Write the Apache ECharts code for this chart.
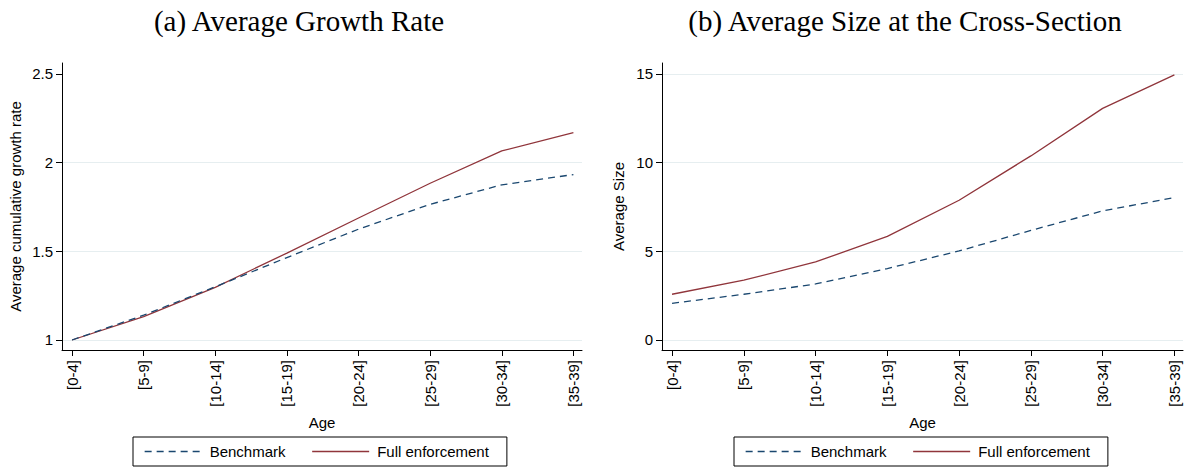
<!DOCTYPE html>
<html>
<head>
<meta charset="utf-8">
<style>
  html, body { margin: 0; padding: 0; background: #ffffff; }
  #chart { width: 1186px; height: 468px; }
</style>
<script src="https://cdn.jsdelivr.net/npm/echarts@6/dist/echarts.min.js"></script>
</head>
<body>
<div id="chart"></div>
<script>
// Age groups on the horizontal axis
const ageGroups = ['[0-4]', '[5-9]', '[10-14]', '[15-19]', '[20-24]', '[25-29]', '[30-34]', '[35-39]'];

// (a) Average cumulative growth rate by age group
const growthBenchmark = [1.00, 1.14, 1.30, 1.465, 1.625, 1.765, 1.875, 1.933];
const growthFull      = [1.00, 1.132, 1.297, 1.49, 1.688, 1.884, 2.066, 2.17];

// (b) Average size at the cross-section by age group
const sizeBenchmark = [2.07, 2.58, 3.16, 4.03, 5.02, 6.18, 7.28, 8.03];
const sizeFull      = [2.58, 3.37, 4.40, 5.84, 7.88, 10.38, 13.06, 14.95];

// Tick values
const ageTicks = [0, 1, 2, 3, 4, 5, 6, 7];
const growthTicks = [1, 1.5, 2, 2.5];
const growthGridValues = [1, 1.5, 2];
const sizeTicks = [0, 5, 10, 15];

const seriesNames = ['Benchmark', 'Full enforcement'];

const NAVY = '#1a476f';
const MAROON = '#90353b';
const SANS = 'Liberation Sans, Arial, sans-serif';
const SERIF = 'Liberation Serif, Times New Roman, serif';
const GRID_COLOR = '#e6eef0';

const toPoints = arr => arr.map((v, i) => [i, v]);

function xAxisFor(gridIndex) {
  return {
    type: 'value',
    gridIndex: gridIndex,
    min: -0.14,
    max: 7.12,
    name: 'Age',
    nameLocation: 'middle',
    nameGap: 62,
    nameTextStyle: { fontFamily: SANS, fontSize: 15, color: '#000' },
    axisLine: { show: true, onZero: false, lineStyle: { color: '#000', width: 1 } },
    axisTick: { show: true, length: 6, customValues: ageTicks, lineStyle: { color: '#000' } },
    axisLabel: {
      customValues: ageTicks,
      rotate: 90,
      margin: 10,
      fontFamily: SANS,
      fontSize: 15,
      color: '#000',
      formatter: v => ageGroups[Math.round(v)]
    },
    splitLine: { show: false }
  };
}

function yAxisFor(gridIndex, min, max, ticks, name, nameGap, showGrid) {
  return {
    type: 'value',
    gridIndex: gridIndex,
    min: min,
    max: max,
    position: 'left',
    name: name,
    nameLocation: 'middle',
    nameGap: nameGap,
    nameRotate: 90,
    nameTextStyle: { fontFamily: SANS, fontSize: 15, color: '#000' },
    axisLine: { show: true, onZero: false, lineStyle: { color: '#000', width: 1 } },
    axisTick: { show: true, length: 6, customValues: ticks, lineStyle: { color: '#000' } },
    axisLabel: { customValues: ticks, margin: 9, fontFamily: SANS, fontSize: 15, color: '#000' },
    splitLine: { show: showGrid, lineStyle: { color: GRID_COLOR, width: 1 } }
  };
}

// Gridline-only axis for panel (a)
function gridOnlyAxis(gridIndex, min, max, values) {
  return {
    type: 'value',
    gridIndex: gridIndex,
    min: min,
    max: max,
    position: 'left',
    axisLine: { show: false },
    axisTick: { show: false, customValues: values },
    axisLabel: { show: false, customValues: values },
    splitLine: { show: true, lineStyle: { color: GRID_COLOR, width: 1 } }
  };
}

function lineSeries(name, data, xi, yi, color, dashed) {
  return {
    name: name,
    type: 'line',
    xAxisIndex: xi,
    yAxisIndex: yi,
    data: toPoints(data),
    symbol: 'none',
    showSymbol: false,
    smooth: false,
    silent: true,
    z: dashed ? 3 : 2,
    lineStyle: { color: color, width: 1.3, type: dashed ? [7, 5] : 'solid' },
    itemStyle: { color: color }
  };
}

function legendFor(left) {
  return {
    data: seriesNames,
    left: left,
    top: 437,
    orient: 'horizontal',
    itemWidth: 57,
    itemHeight: 14,
    itemGap: 26,
    padding: [7, 18, 7, 11],
    borderColor: '#000',
    borderWidth: 1,
    selectedMode: false,
    itemStyle: { opacity: 0 },
    lineStyle: { width: 1.3 },
    textStyle: { fontFamily: SANS, fontSize: 15, color: '#000', padding: [0, 0, 0, 3] }
  };
}

const chart = echarts.init(document.getElementById('chart'), null, { renderer: 'svg' });

chart.setOption({
  animation: false,
  backgroundColor: '#ffffff',
  title: [
    {
      text: '(a) Average Growth Rate',
      left: 294,
      top: 1,
      textAlign: 'center',
      textStyle: { fontFamily: SERIF, fontSize: 29, fontWeight: 'normal', color: '#000' }
    },
    {
      text: '(b) Average Size at the Cross-Section',
      left: 900,
      top: 1,
      textAlign: 'center',
      textStyle: { fontFamily: SERIF, fontSize: 29, fontWeight: 'normal', color: '#000' }
    }
  ],
  legend: [legendFor(133), legendFor(734)],
  grid: [
    { left: 62, right: 604, top: 63, bottom: 118, containLabel: false },
    { left: 662, right: 3, top: 63, bottom: 118, containLabel: false }
  ],
  xAxis: [xAxisFor(0), xAxisFor(1)],
  yAxis: [
    yAxisFor(0, 0.9436, 2.562, growthTicks, 'Average cumulative growth rate', 39, false),
    yAxisFor(1, -0.564, 15.62, sizeTicks, 'Average Size', 36, true),
    gridOnlyAxis(0, 0.9436, 2.562, growthGridValues)
  ],
  series: [
    lineSeries('Benchmark', growthBenchmark, 0, 0, NAVY, true),
    lineSeries('Full enforcement', growthFull, 0, 0, MAROON, false),
    lineSeries('Benchmark', sizeBenchmark, 1, 1, NAVY, true),
    lineSeries('Full enforcement', sizeFull, 1, 1, MAROON, false)
  ]
});
</script>
</body>
</html>
